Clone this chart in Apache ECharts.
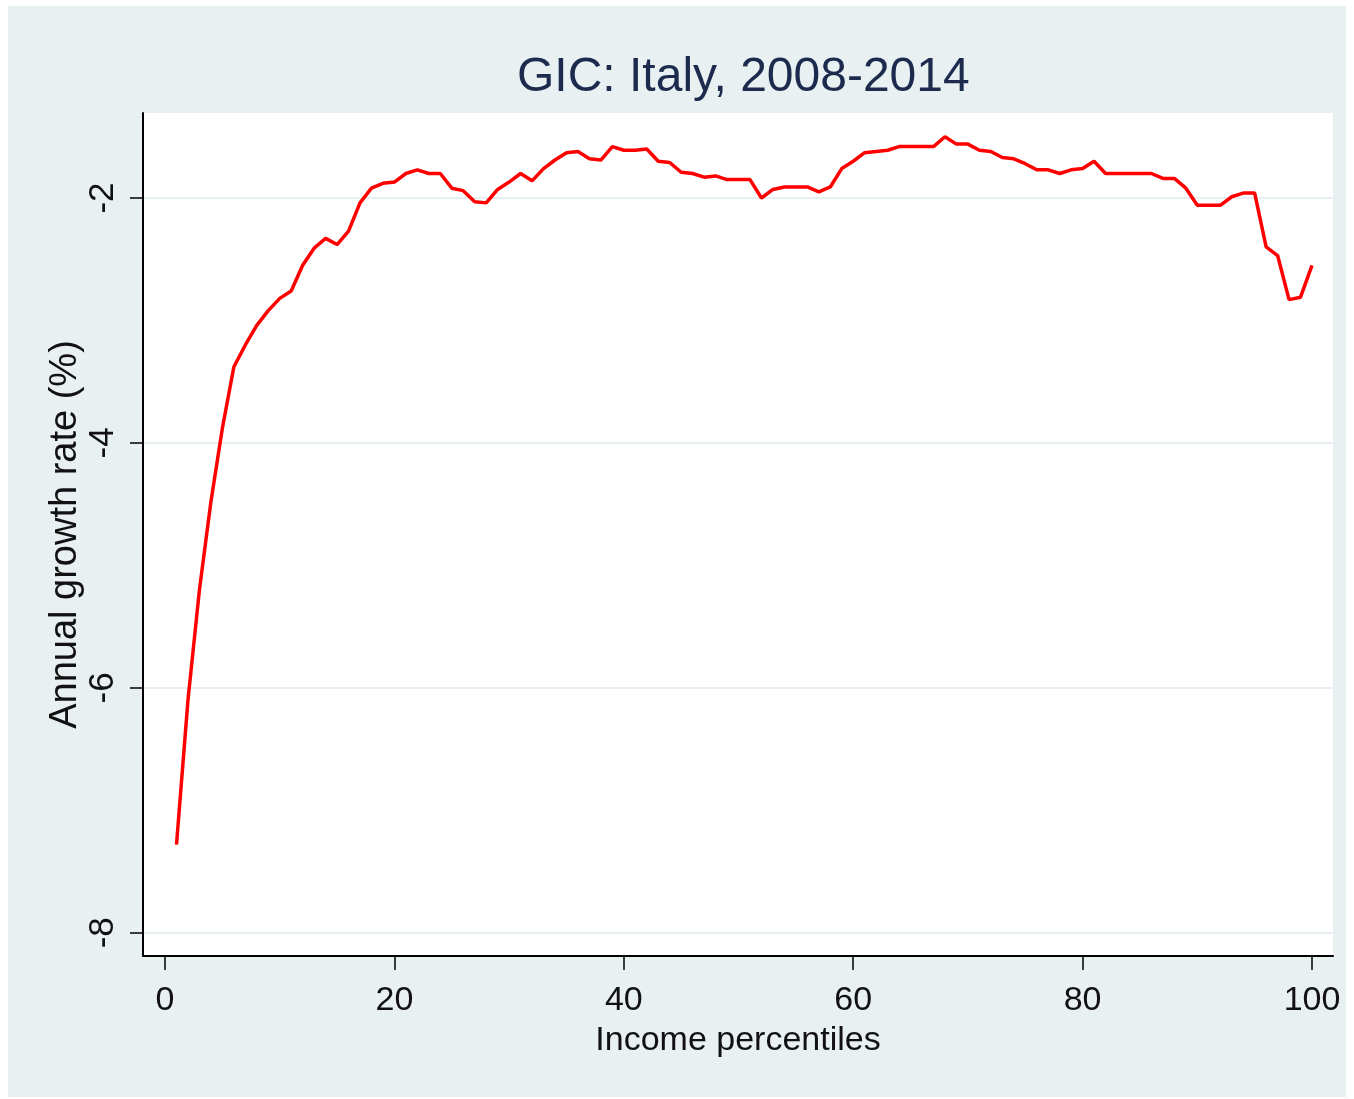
<!DOCTYPE html>
<html>
<head>
<meta charset="utf-8">
<script src="https://cdn.jsdelivr.net/npm/echarts@6/dist/echarts.min.js"></script>
<style>
  html, body { margin: 0; padding: 0; background: #fff; }
  #main { width: 1354px; height: 1099px; }
</style>
</head>
<body>
<div id="main"></div>
<script>
// growth incidence curve, percentiles 1..100
var percentiles = [];
for (var i = 1; i <= 100; i++) percentiles.push(i);
var growth = [
  -7.28, -6.10, -5.20, -4.48, -3.88, -3.38, -3.20, -3.04, -2.92, -2.82,
  -2.76, -2.55, -2.41, -2.33, -2.38, -2.27, -2.04, -1.92, -1.88, -1.87,
  -1.80, -1.77, -1.80, -1.80, -1.92, -1.94, -2.03, -2.04, -1.93, -1.87,
  -1.80, -1.86, -1.76, -1.69, -1.63, -1.62, -1.68, -1.69, -1.58, -1.61,
  -1.61, -1.60, -1.70, -1.71, -1.79, -1.80, -1.83, -1.82, -1.85, -1.85,
  -1.85, -2.00, -1.93, -1.91, -1.91, -1.91, -1.95, -1.91, -1.76, -1.70,
  -1.63, -1.62, -1.61, -1.58, -1.58, -1.58, -1.58, -1.50, -1.56, -1.56,
  -1.61, -1.62, -1.67, -1.68, -1.72, -1.77, -1.77, -1.80, -1.77, -1.76,
  -1.70, -1.80, -1.80, -1.80, -1.80, -1.80, -1.84, -1.84, -1.92, -2.06,
  -2.06, -2.06, -1.99, -1.96, -1.96, -2.40, -2.47, -2.83, -2.81, -2.55
];
var xTicks = [0, 20, 40, 60, 80, 100];
var yTicks = [-8, -6, -4, -2];

var font = '"Liberation Sans", Arial, sans-serif';

var chart = echarts.init(document.getElementById('main'));
chart.setOption({
  backgroundColor: '#ffffff',
  animation: false,
  graphic: [{
    type: 'rect', z: -10,
    shape: { x: 8, y: 6, width: 1338, height: 1091 },
    style: { fill: '#e8f0f2' }
  }],
  title: {
    text: 'GIC: Italy, 2008-2014',
    left: 512, top: 49,
    textStyle: { fontFamily: font, fontSize: 48, fontWeight: 'normal', color: '#1c2a4e' }
  },
  grid: {
    left: 143, top: 113, width: 1190, height: 843,
    show: true, backgroundColor: '#ffffff', borderWidth: 0
  },
  xAxis: {
    type: 'value', min: -1.92, max: 101.83,
    name: 'Income percentiles', nameLocation: 'middle', nameGap: 68,
    nameMoveOverlap: false,
    nameTextStyle: { fontFamily: font, fontSize: 34, color: '#111' },
    axisLine: { show: true, onZero: false, lineStyle: { color: '#000', width: 2 } },
    axisTick: { show: true, length: 14, customValues: xTicks, lineStyle: { color: '#000', width: 1.5 } },
    axisLabel: { customValues: xTicks, margin: 28, fontFamily: font, fontSize: 34, color: '#111' },
    splitLine: { show: false }
  },
  yAxis: {
    type: 'value', min: -8.19, max: -1.306,
    name: 'Annual growth rate (%)', nameLocation: 'middle', nameGap: 58,
    nameMoveOverlap: false,
    nameTextStyle: { fontFamily: font, fontSize: 38, color: '#111' },
    axisLine: { show: true, onZero: false, lineStyle: { color: '#000', width: 2 } },
    axisTick: { show: true, length: 13, customValues: yTicks, lineStyle: { color: '#000', width: 1.5 } },
    axisLabel: { customValues: yTicks, rotate: 90, margin: 22, fontFamily: font, fontSize: 35, color: '#111' },
    splitLine: { show: true, lineStyle: { color: '#e6eff1', width: 2 } }
  },
  series: [{
    type: 'line',
    data: percentiles.map(function (p, k) { return [p, growth[k]]; }),
    showSymbol: false,
    lineStyle: { color: '#ff0000', width: 3.5 }
  }]
});
</script>
</body>
</html>
